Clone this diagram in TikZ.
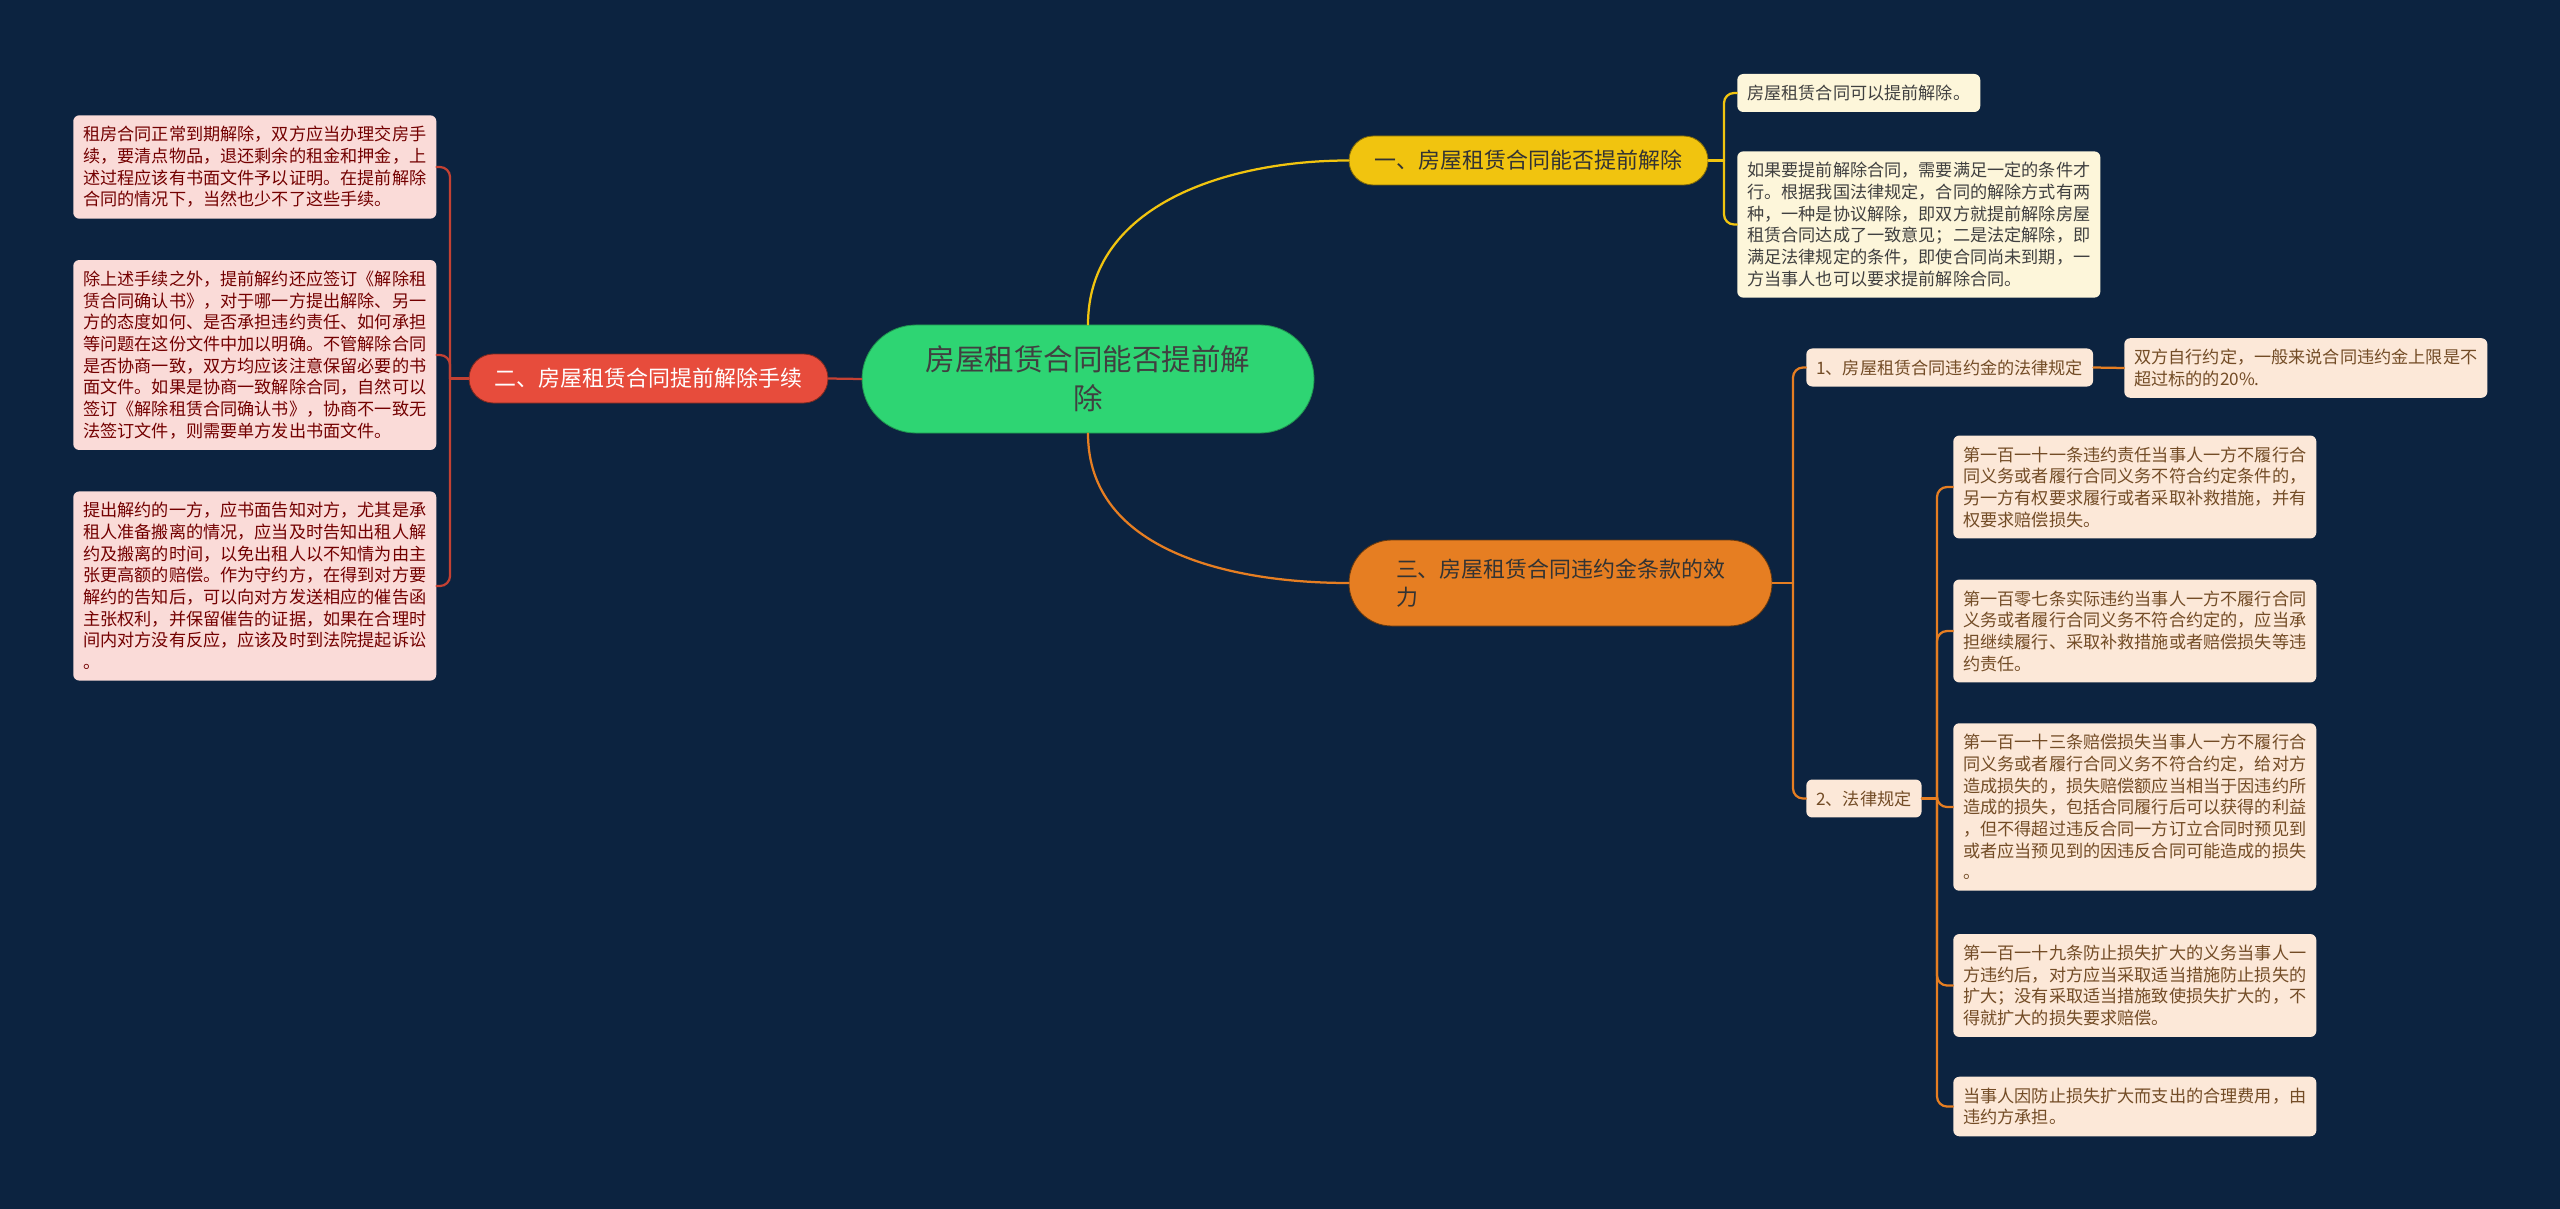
\documentclass[tikz,border=0pt]{standalone}
\usepackage{fontspec}
\setmainfont{Noto Sans CJK SC}
\usepackage{tikz}
\usetikzlibrary{positioning}

\definecolor{bgnavy}{HTML}{0C2340}
\definecolor{rootgreen}{HTML}{2ED573}
\definecolor{brYellow}{HTML}{F1C40F}
\definecolor{brRed}{HTML}{E74C3C}
\definecolor{brOrange}{HTML}{E67E22}
\definecolor{lfYellow}{HTML}{FDF6DA}
\definecolor{lfRed}{HTML}{FADBD8}
\definecolor{lfOrange}{HTML}{FCE8D8}

\newcommand\leaffont{\fontsize{12.2}{15.4}\selectfont}
\newcommand\branchfont{\fontsize{15.6}{20}\selectfont}
\newcommand\rootfont{\fontsize{21}{28}\selectfont}

\begin{document}
\begin{tikzpicture}[x=0.25mm,y=-0.25mm,line cap=round,
    leaf/.style={rounded corners=1.5mm,inner xsep=2.5mm,inner ysep=2.75mm,
        align=left,font=\leaffont,anchor=west},
    yleaf/.style={leaf,fill=lfYellow,text=black!75},
    rleaf/.style={leaf,fill=lfRed,text=red!45!black},
    oleaf/.style={leaf,fill=lfOrange,text=brown!60!black},
    branch/.style={minimum height=12.25mm,rounded corners=6.1mm,
        font=\branchfont,line width=.6pt,inner sep=0pt},
    link/.style={line width=1.6pt},
    elbow/.style={link,rounded corners=2.5mm}]

    % background
    \fill [bgnavy] (0,0) rectangle (2560,1209);
    \useasboundingbox (0,0) rectangle (2560,1209);

    % root and branches
    \node [fill=rootgreen,draw=rootgreen!70!black,line width=.6pt,rounded corners=13.5mm,
        minimum width=113mm,minimum height=27mm,align=center,font=\rootfont,
        text=black!75] (root) at (1088,379) {房屋租赁合同能否提前解\\除};
    \node [branch,fill=brYellow,draw=brYellow!55!black,minimum width=89.75mm,
        text=black!80] (can) at (1528.5,160.5) {一、房屋租赁合同能否提前解除};
    \node [branch,fill=brRed,draw=brRed!55!black,minimum width=89.75mm,
        text=white] (steps) at (648.5,378.5) {二、房屋租赁合同提前解除手续};
    \node [branch,fill=brOrange,draw=brOrange!45!black,minimum width=105.75mm,
        minimum height=21.5mm,rounded corners=10.7mm,align=left,
        text=black!80] (penalty) at (1560.5,583) {三、房屋租赁合同违约金条款的效\\力};

    % yellow leaves
    \node [yleaf] (canA) at (1737,93) {房屋租赁合同可以提前解除。};
    \node [yleaf] (canB) at (1737,224.5) {如果要提前解除合同，需要满足一定的条件才\\
        行。根据我国法律规定，合同的解除方式有两\\
        种，一种是协议解除，即双方就提前解除房屋\\
        租赁合同达成了一致意见；二是法定解除，即\\
        满足法律规定的条件，即使合同尚未到期，一\\
        方当事人也可以要求提前解除合同。};

    % red leaves
    \node [rleaf] (stepA) at (73,167) {租房合同正常到期解除，双方应当办理交房手\\
        续，要清点物品，退还剩余的租金和押金，上\\
        述过程应该有书面文件予以证明。在提前解除\\
        合同的情况下，当然也少不了这些手续。};
    \node [rleaf] (stepB) at (73,355) {除上述手续之外，提前解约还应签订《解除租\\
        赁合同确认书》，对于哪一方提出解除、另一\\
        方的态度如何、是否承担违约责任、如何承担\\
        等问题在这份文件中加以明确。不管解除合同\\
        是否协商一致，双方均应该注意保留必要的书\\
        面文件。如果是协商一致解除合同，自然可以\\
        签订《解除租赁合同确认书》，协商不一致无\\
        法签订文件，则需要单方发出书面文件。};
    \node [rleaf] (stepC) at (73,586) {提出解约的一方，应书面告知对方，尤其是承\\
        租人准备搬离的情况，应当及时告知出租人解\\
        约及搬离的时间，以免出租人以不知情为由主\\
        张更高额的赔偿。作为守约方，在得到对方要\\
        解约的告知后，可以向对方发送相应的催告函\\
        主张权利，并保留催告的证据，如果在合理时\\
        间内对方没有反应，应该及时到法院提起诉讼\\
        。};

    % orange subtopics and leaves
    \node [oleaf] (rule) at (1806,367.5) {1、房屋租赁合同违约金的法律规定};
    \node [oleaf] (ruleA) at (2124,368) {双方自行约定，一般来说合同违约金上限是不\\
        超过标的的20\%.};
    \node [oleaf] (law) at (1806,798.5) {2、法律规定};
    \node [oleaf] (lawA) at (1953,487) {第一百一十一条违约责任当事人一方不履行合\\
        同义务或者履行合同义务不符合约定条件的，\\
        另一方有权要求履行或者采取补救措施，并有\\
        权要求赔偿损失。};
    \node [oleaf] (lawB) at (1953,631) {第一百零七条实际违约当事人一方不履行合同\\
        义务或者履行合同义务不符合约定的，应当承\\
        担继续履行、采取补救措施或者赔偿损失等违\\
        约责任。};
    \node [oleaf] (lawC) at (1953,807) {第一百一十三条赔偿损失当事人一方不履行合\\
        同义务或者履行合同义务不符合约定，给对方\\
        造成损失的，损失赔偿额应当相当于因违约所\\
        造成的损失，包括合同履行后可以获得的利益\\
        ，但不得超过违反合同一方订立合同时预见到\\
        或者应当预见到的因违反合同可能造成的损失\\
        。};
    \node [oleaf] (lawD) at (1953,985.5) {第一百一十九条防止损失扩大的义务当事人一\\
        方违约后，对方应当采取适当措施防止损失的\\
        扩大；没有采取适当措施致使损失扩大的，不\\
        得就扩大的损失要求赔偿。};
    \node [oleaf] (lawE) at (1953,1106.5) {当事人因防止损失扩大而支出的合理费用，由\\
        违约方承担。};

    % bracket points
    \coordinate (canBar) at (1724,160.5);
    \coordinate (stepBar) at (450,378.5);
    \coordinate (penBar) at (1793,583);
    \coordinate (lawBar) at (1937,798.5);

    % root links
    \draw [link,brYellow] (root.north) to[out=90,in=180] (can.west);
    \draw [link,brOrange] (root.south) to[out=-90,in=180] (penalty.west);
    \draw [link,brRed!85!black] (root.west) -- (steps.east);

    % branch brackets
    \draw [link,brYellow] (can.east) -- (canBar);
    \foreach \leaf in {canA,canB}
        \draw [elbow,brYellow] (canBar) |- (\leaf.west);
    \draw [link,brRed!85!black] (steps.west) -- (stepBar);
    \foreach \leaf in {stepA,stepB,stepC}
        \draw [elbow,brRed!85!black] (stepBar) |- (\leaf.east);
    \draw [link,brOrange] (penalty.east) -- (penBar);
    \foreach \leaf in {rule,law}
        \draw [elbow,brOrange] (penBar) |- (\leaf.west);
    \draw [link,brOrange] (rule.east) -- (ruleA.west);
    \draw [link,brOrange] (law.east) -- (lawBar);
    \foreach \leaf in {lawA,lawB,lawC,lawD,lawE}
        \draw [elbow,brOrange] (lawBar) |- (\leaf.west);
\end{tikzpicture}
\end{document}
